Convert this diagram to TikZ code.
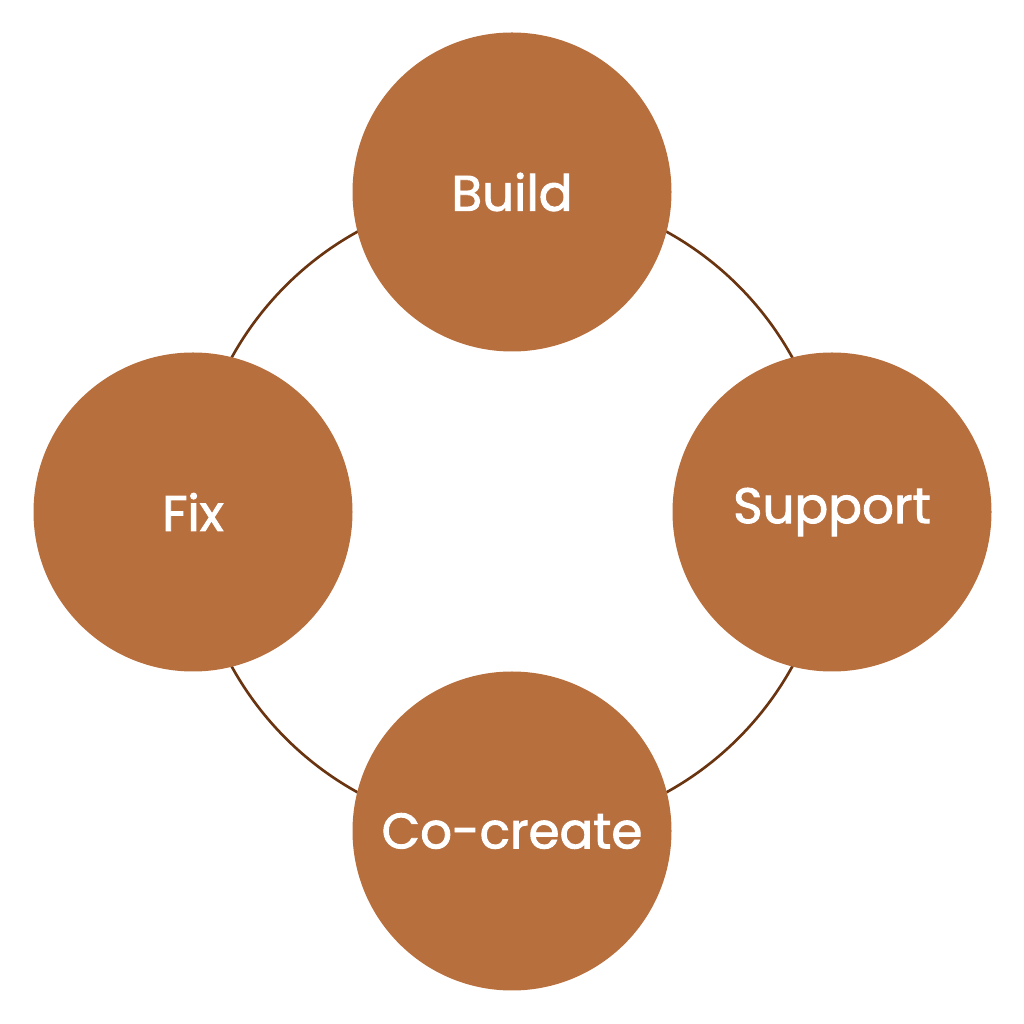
\documentclass[tikz,border=0pt]{standalone}
\usepackage{fontspec}
\setmainfont{Poppins}[FakeBold=1.8]
\definecolor{fillc}{HTML}{B86F3E}
\definecolor{ringc}{HTML}{6A3410}
\begin{document}
\begin{tikzpicture}[x=0.01cm,y=0.01cm,
  stage/.style={circle,fill=fillc,draw=none,minimum size=319*0.01cm,inner sep=0pt,text=white,font=\fontsize{14.2}{17}\selectfont}]
\useasboundingbox (0,0) rectangle (1024,1024);
\coordinate (c) at (512,512);
\draw[ringc,line width=0.75pt] (c) circle[radius=320];
\node[stage] (build) at (512,832) {Build};
\node[stage] (support) at (832,512) {Support};
\node[stage] (fix) at (193,512) {Fix};
\node[stage] (cocreate) at (512,193) {Co-create};
\end{tikzpicture}
\end{document}
